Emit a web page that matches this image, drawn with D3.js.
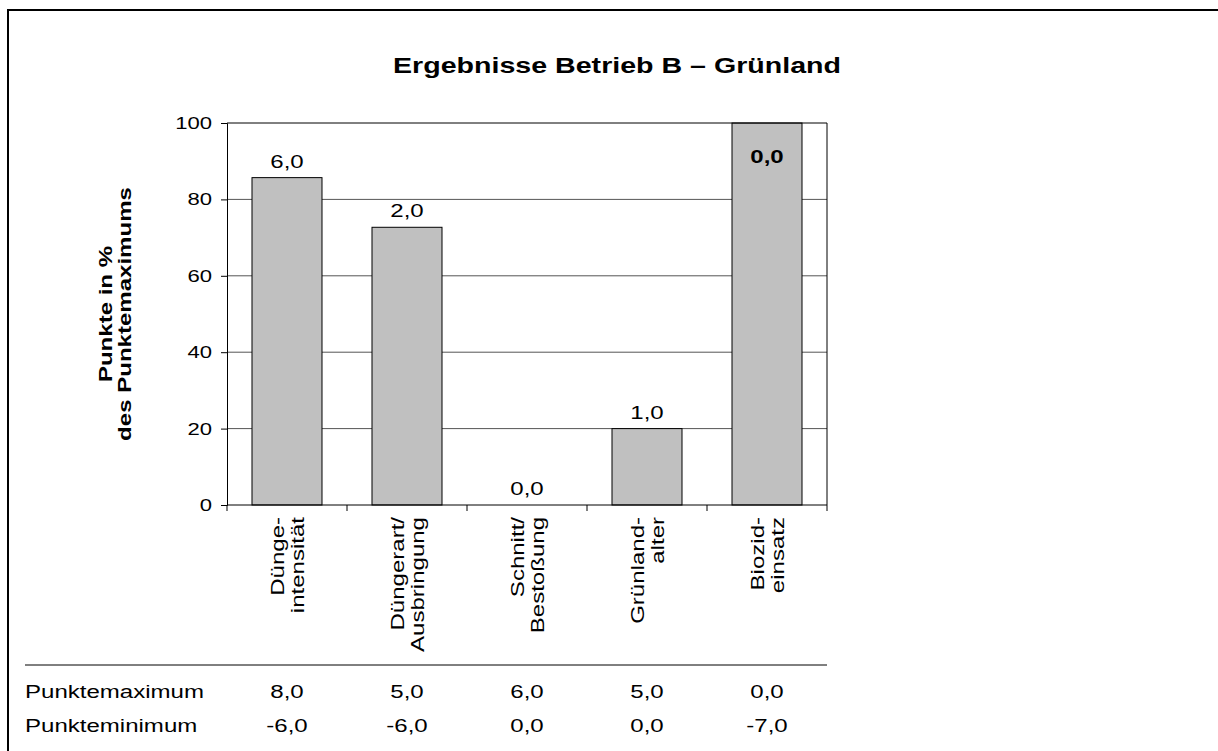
<!DOCTYPE html>
<html>
   <head>
      <meta charset="utf-8">
      <script src="https://d3js.org/d3.v7.min.js"></script>
      <title>Ergebnisse Betrieb B – Grünland</title>
      <style>
         html, body { margin: 0; background: #fff; overflow: hidden; }
         svg { display: block; }
         text { font-family: "Liberation Sans", Arial, sans-serif; fill: #000; }
      </style>
   </head>
   <body>
      <svg width="1218" height="751"></svg>
      <script>
         // chart data
         var categories = [
            ["Dünge-", "intensität"],
            ["Düngerart/", "Ausbringung"],
            ["Schnitt/", "Bestoßung"],
            ["Grünland-", "alter"],
            ["Biozid-", "einsatz"]
         ];
         var percentOfMax = [85.7, 72.7, 0, 20, 100];
         var points = [6.0, 2.0, 0.0, 1.0, 0.0];
         var pointsMax = [8.0, 5.0, 6.0, 5.0, 0.0];
         var pointsMin = [-6.0, -6.0, 0.0, 0.0, -7.0];
         var yTicks = [0, 20, 40, 60, 80, 100];
         var rowLabels = ["Punktemaximum", "Punkteminimum"];

         var de = d3.formatLocale({decimal: ",", thousands: ".", grouping: [3], currency: ["", " €"], minus: "-"});
         var fmt = de.format(".1f");

         var svg = d3.select("svg");
         var mLeft = 227, mTop = 123, width = 600, height = 382;
         var sx = 1.3; // the original's lettering is wider than Arial

         // text helper: position, optional rotation, horizontal stretch
         function label(parent, x, y, rot, size) {
            return parent.append("text")
               .attr("transform", "translate(" + x + "," + y + ")" + (rot ? " rotate(" + rot + ")" : "") + " scale(" + sx + ",1)")
               .attr("font-size", size + "px");
         }

         // outer frame: only top and left edges are inside the picture
         svg.append("path")
            .attr("d", "M8,760 L8,10 L1230,10")
            .attr("fill", "none").attr("stroke", "#000").attr("stroke-width", 2);

         label(svg, 617, 73, 0, 22).attr("text-anchor", "middle").attr("font-weight", "bold")
            .text("Ergebnisse Betrieb B – Grünland");

         var idx = d3.range(categories.length);
         var x = d3.scaleBand().domain(idx).range([0, width]).paddingInner(0.4167).paddingOuter(0.2083);
         var xb = d3.scaleBand().domain(idx).range([0, width]);
         var y = d3.scaleLinear().domain([0, 100]).range([height, 0]);

         var g = svg.append("g").attr("transform", "translate(" + mLeft + "," + mTop + ")");

         // gridlines
         g.selectAll(".grid").data(yTicks.filter(function(d) { return d > 0 && d < 100; }))
            .enter().append("line")
            .attr("x1", 0).attr("x2", width)
            .attr("y1", function(d) { return y(d); }).attr("y2", function(d) { return y(d); })
            .attr("stroke", "#555").attr("stroke-width", 1);

         // bars
         g.selectAll(".bar").data(idx).enter().append("rect")
            .attr("x", function(i) { return x(i); })
            .attr("y", function(i) { return y(percentOfMax[i]); })
            .attr("width", x.bandwidth())
            .attr("height", function(i) { return height - y(percentOfMax[i]); })
            .attr("fill", "#c0c0c0").attr("stroke", "#000").attr("stroke-width", 1);

         // value labels
         idx.forEach(function(i) {
            var full = percentOfMax[i] >= 100;
            label(g, x(i) + x.bandwidth() / 2, full ? y(percentOfMax[i]) + 40 : y(percentOfMax[i]) - 10, 0, 18.5)
               .attr("text-anchor", "middle")
               .attr("font-weight", full ? "bold" : "normal")
               .text(fmt(points[i]));
         });

         // plot box top / right
         g.append("line").attr("x1", 0).attr("x2", width).attr("y1", 0).attr("y2", 0).attr("stroke", "#000");
         g.append("line").attr("x1", width).attr("x2", width).attr("y1", 0).attr("y2", height).attr("stroke", "#000");

         // y axis
         var yAxis = g.append("g")
            .call(d3.axisLeft(y).tickValues(yTicks).tickSize(6).tickFormat(""));
         yAxis.select(".domain").attr("stroke", "#000");
         yTicks.forEach(function(t) {
            label(g, -15, y(t) + 6, 0, 17).attr("text-anchor", "end").text(t);
         });

         // x axis with ticks at band boundaries
         var xAxisG = g.append("g").attr("transform", "translate(0," + height + ")");
         xAxisG.append("line").attr("x1", 0).attr("x2", width).attr("stroke", "#000");
         xAxisG.selectAll(".tk").data(d3.range(categories.length + 1)).enter().append("line")
            .attr("x1", function(i) { return i * xb.bandwidth(); })
            .attr("x2", function(i) { return i * xb.bandwidth(); })
            .attr("y1", 0).attr("y2", 6).attr("stroke", "#000");

         // category labels (rotated)
         idx.forEach(function(i) {
            var t = label(xAxisG, xb(i) + xb.bandwidth() / 2, 12, -90, 18.5).attr("text-anchor", "end");
            categories[i].forEach(function(line, k) {
               t.append("tspan").attr("x", 0).attr("y", k === 0 ? -3 : 17).text(line);
            });
         });

         // y title
         var yt = label(svg, 0, 314, -90, 18.5).attr("text-anchor", "middle").attr("font-weight", "bold");
         yt.append("tspan").attr("x", 0).attr("y", 112).text("Punkte in %");
         yt.append("tspan").attr("x", 0).attr("y", 131).text("des Punktemaximums");

         // table below the chart
         svg.append("line").attr("x1", 25).attr("x2", mLeft + width).attr("y1", 665).attr("y2", 665).attr("stroke", "#000");
         var rows = [pointsMax, pointsMin];
         rows.forEach(function(row, r) {
            var yy = 698 + r * 34;
            label(svg, 25, yy, 0, 18.5).text(rowLabels[r]);
            idx.forEach(function(i) {
               label(svg, mLeft + xb(i) + xb.bandwidth() / 2, yy, 0, 18.5)
                  .attr("text-anchor", "middle")
                  .text(fmt(row[i]));
            });
         });
      </script>
   </body>
</html>
